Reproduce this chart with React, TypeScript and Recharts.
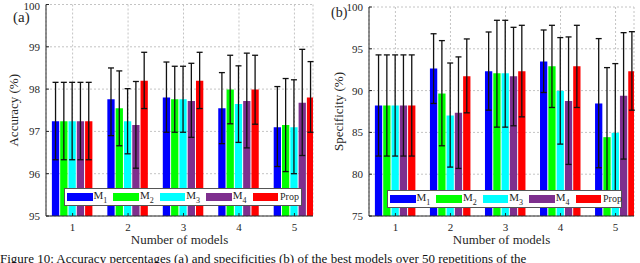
import React from 'react';
import { BarChart, Bar, XAxis, YAxis, CartesianGrid, ErrorBar, Legend } from 'recharts';

// ---------- data ----------
const categories = [1, 2, 3, 4, 5];
const seriesKeys = ['M1', 'M2', 'M3', 'M4', 'Prop'];
const seriesColors = ['#0000ff', '#00ff00', '#00ffff', '#7e2f8e', '#ff0000'];

// (a) Accuracy (%)
const accM1 = [97.24, 97.76, 97.8, 97.55, 97.1];
const accM2 = [97.24, 97.55, 97.76, 97.99, 97.15];
const accM3 = [97.24, 97.24, 97.76, 97.65, 97.1];
const accM4 = [97.24, 97.15, 97.72, 97.72, 97.68];
const accProp = [97.24, 98.2, 98.2, 97.99, 97.8];
const accHiM1 = [98.16, 98.5, 98.64, 98.39, 98.06];
const accHiM2 = [98.16, 98.43, 98.54, 98.8, 98.25];
const accHiM3 = [98.16, 98.01, 98.54, 98.55, 98.22];
const accHiM4 = [98.16, 98.18, 98.61, 98.85, 98.94];
const accHiProp = [98.16, 98.87, 98.87, 98.8, 98.65];
const accLoM1 = [96.33, 96.9, 96.98, 96.71, 96.17];
const accLoM2 = [96.33, 96.66, 96.98, 97.18, 96.05];
const accLoM3 = [96.33, 96.47, 96.98, 96.74, 96.0];
const accLoM4 = [96.33, 96.13, 96.86, 96.61, 96.43];
const accLoProp = [96.33, 97.54, 97.54, 97.17, 96.98];

// (b) Specificity (%)
const spcM1 = [88.22, 92.64, 92.32, 93.47, 88.46];
const spcM2 = [88.22, 89.65, 92.08, 92.91, 84.43];
const spcM3 = [88.22, 87.02, 92.08, 89.97, 84.95];
const spcM4 = [88.22, 87.34, 91.72, 88.77, 89.37];
const spcProp = [88.22, 91.72, 92.32, 92.91, 92.32];
const spcHiM1 = [94.27, 96.8, 97.01, 97.25, 96.22];
const spcHiM2 = [94.27, 95.98, 98.41, 97.81, 92.75];
const spcHiM3 = [94.27, 93.3, 98.41, 96.34, 93.23];
const spcHiM4 = [94.27, 94.03, 97.57, 96.42, 96.93];
const spcHiProp = [94.27, 96.18, 97.81, 97.81, 97.05];
const spcLoM1 = [82.17, 88.46, 87.66, 89.77, 80.77];
const spcLoM2 = [82.17, 83.4, 85.63, 87.98, 76.1];
const spcLoM3 = [82.17, 80.85, 85.63, 83.6, 76.7];
const spcLoM4 = [82.17, 80.69, 85.79, 81.17, 81.81];
const spcLoProp = [82.17, 87.34, 86.86, 87.98, 87.66];

const accTicks = [95, 96, 97, 98, 99, 100];
const spcTicks = [75, 80, 85, 90, 95, 100];

const captionText =
  'Figure 10: Accuracy percentages (a) and specificities (b) of the best models over 50 repetitions of the';

// ---------- helpers ----------
function buildRows(means: number[][], his: number[][], los: number[][]) {
  return categories.map((c, i) => {
    const row: any = { x: c };
    seriesKeys.forEach((k, s) => {
      row[k] = means[s][i];
      row[k + '_err'] = [means[s][i] - los[s][i], his[s][i] - means[s][i]];
    });
    return row;
  });
}

const accRows = buildRows(
  [accM1, accM2, accM3, accM4, accProp],
  [accHiM1, accHiM2, accHiM3, accHiM4, accHiProp],
  [accLoM1, accLoM2, accLoM3, accLoM4, accLoProp]
);
const spcRows = buildRows(
  [spcM1, spcM2, spcM3, spcM4, spcProp],
  [spcHiM1, spcHiM2, spcHiM3, spcHiM4, spcHiProp],
  [spcLoM1, spcLoM2, spcLoM3, spcLoM4, spcLoProp]
);

const FONT = '"Liberation Serif", "Times New Roman", serif';
const AX = '#262626';

const LegendBox = () => (
  <div
    style={{
      width: '100%',
      height: '100%',
      boxSizing: 'border-box',
      background: '#fff',
      border: '1px solid #555',
      display: 'flex',
      alignItems: 'center',
      paddingLeft: 2,
      fontFamily: FONT,
      color: AX,
    }}
  >
    {seriesKeys.map((k, i) => (
      <div key={k} style={{ width: 46.4, display: 'flex', alignItems: 'center', flexShrink: 0 }}>
        <div style={{ width: 25.5, height: 8.5, background: seriesColors[i], flexShrink: 0 }} />
        {k === 'Prop' ? (
          <span style={{ fontSize: 10, marginLeft: 2, lineHeight: '10px', fontFamily: FONT }}>Prop</span>
        ) : (
          <span style={{ fontSize: 11, marginLeft: 1, lineHeight: '10px', position: 'relative', top: -1, fontFamily: FONT }}>
            M
            <span style={{ fontSize: 8, position: 'relative', top: 4 }}>{k.slice(1)}</span>
          </span>
        )}
      </div>
    ))}
  </div>
);

type PanelProps = {
  rows: any[];
  ticks: number[];
  yLabel: string;
  margin: { top: number; right: number; bottom: number; left: number };
  yAxisWidth: number;
  yLabelOffset: number;
  legendPos: { left: number; top: number; width: number; height: number };
};

const Panel = ({ rows, ticks, yLabel, margin, yAxisWidth, yLabelOffset, legendPos }: PanelProps) => {
  const dom: [number, number] = [ticks[0], ticks[ticks.length - 1]];
  const xDom: [number, number] = [0.52, 5.335];
  const tickFont = { fontSize: 11, fill: AX, fontFamily: FONT };
  return (
    <BarChart width={320} height={263} data={rows} margin={margin} barGap={1}>
      <CartesianGrid stroke="#c4c4c4" strokeDasharray="2 2" />
      <XAxis
        dataKey="x"
        type="number"
        domain={xDom}
        ticks={categories}
        allowDataOverflow
        height={33}
        stroke={AX}
        tickSize={-3}
        tickMargin={10}
        tick={tickFont}
        label={{
          value: 'Number of models',
          position: 'insideBottom',
          offset: 5,
          style: { fontSize: 13, fill: AX, fontFamily: FONT },
        }}
      />
      <XAxis
        xAxisId="top"
        orientation="top"
        dataKey="x"
        type="number"
        domain={xDom}
        ticks={categories}
        allowDataOverflow
        height={0}
        stroke={AX}
        tickSize={-3}
        tick={() => <g />}
      />
      <YAxis
        type="number"
        domain={dom}
        ticks={ticks}
        allowDataOverflow
        width={yAxisWidth}
        stroke={AX}
        tickSize={-3}
        tickMargin={9}
        tick={tickFont}
        label={{
          value: yLabel,
          angle: -90,
          position: 'insideLeft',
          offset: yLabelOffset,
          style: { fontSize: 13, fill: AX, fontFamily: FONT, textAnchor: 'middle' },
        }}
      />
      <YAxis
        yAxisId="right"
        orientation="right"
        type="number"
        domain={dom}
        ticks={ticks}
        allowDataOverflow
        width={0}
        stroke={AX}
        tickSize={-3}
        tick={() => <g />}
      />
      {seriesKeys.map((k, i) => (
        <Bar key={k} dataKey={k} fill={seriesColors[i]} barSize={7.3} isAnimationActive={false}>
          <ErrorBar dataKey={k + '_err'} width={3} stroke="#111" strokeWidth={1.3} direction="y" />
        </Bar>
      ))}
      <Legend
        layout="horizontal"
        verticalAlign="middle"
        align="center"
        content={() => <LegendBox />}
        wrapperStyle={{ ...legendPos, margin: 0, padding: 0 }}
      />
    </BarChart>
  );
};

export default function App() {
  return (
    <div
      style={{
        position: 'absolute',
        left: 0,
        top: 0,
        width: 640,
        height: 263,
        overflow: 'hidden',
        background: '#fff',
        fontFamily: FONT,
      }}
    >
      <style>{`.recharts-wrapper text { font-family: ${FONT}; }`}</style>
      <div style={{ position: 'absolute', left: 0, top: 0 }}>
        <Panel
          rows={accRows}
          ticks={accTicks}
          yLabel="Accuracy (%)"
          margin={{ top: 4.5, right: 7, bottom: 14, left: 0 }}
          yAxisWidth={46}
          yLabelOffset={13}
          legendPos={{ left: 64, top: 188, width: 238, height: 18 }}
        />
      </div>
      <div style={{ position: 'absolute', left: 320, top: 0 }}>
        <Panel
          rows={spcRows}
          ticks={spcTicks}
          yLabel="Specificity (%)"
          margin={{ top: 7, right: 6, bottom: 14, left: 0 }}
          yAxisWidth={49}
          yLabelOffset={18}
          legendPos={{ left: 67, top: 190, width: 235, height: 18 }}
        />
      </div>
      <div style={{ position: 'absolute', left: 13, top: 10, fontSize: 15, color: AX, lineHeight: '15px' }}>(a)</div>
      <div style={{ position: 'absolute', left: 331, top: 6, fontSize: 14, color: AX, lineHeight: '14px' }}>(b)</div>
      <div
        style={{
          position: 'absolute',
          left: 0,
          top: 252,
          fontSize: 13,
          lineHeight: '13px',
          whiteSpace: 'nowrap',
          color: '#111',
        }}
      >
        {captionText}
      </div>
    </div>
  );
}
